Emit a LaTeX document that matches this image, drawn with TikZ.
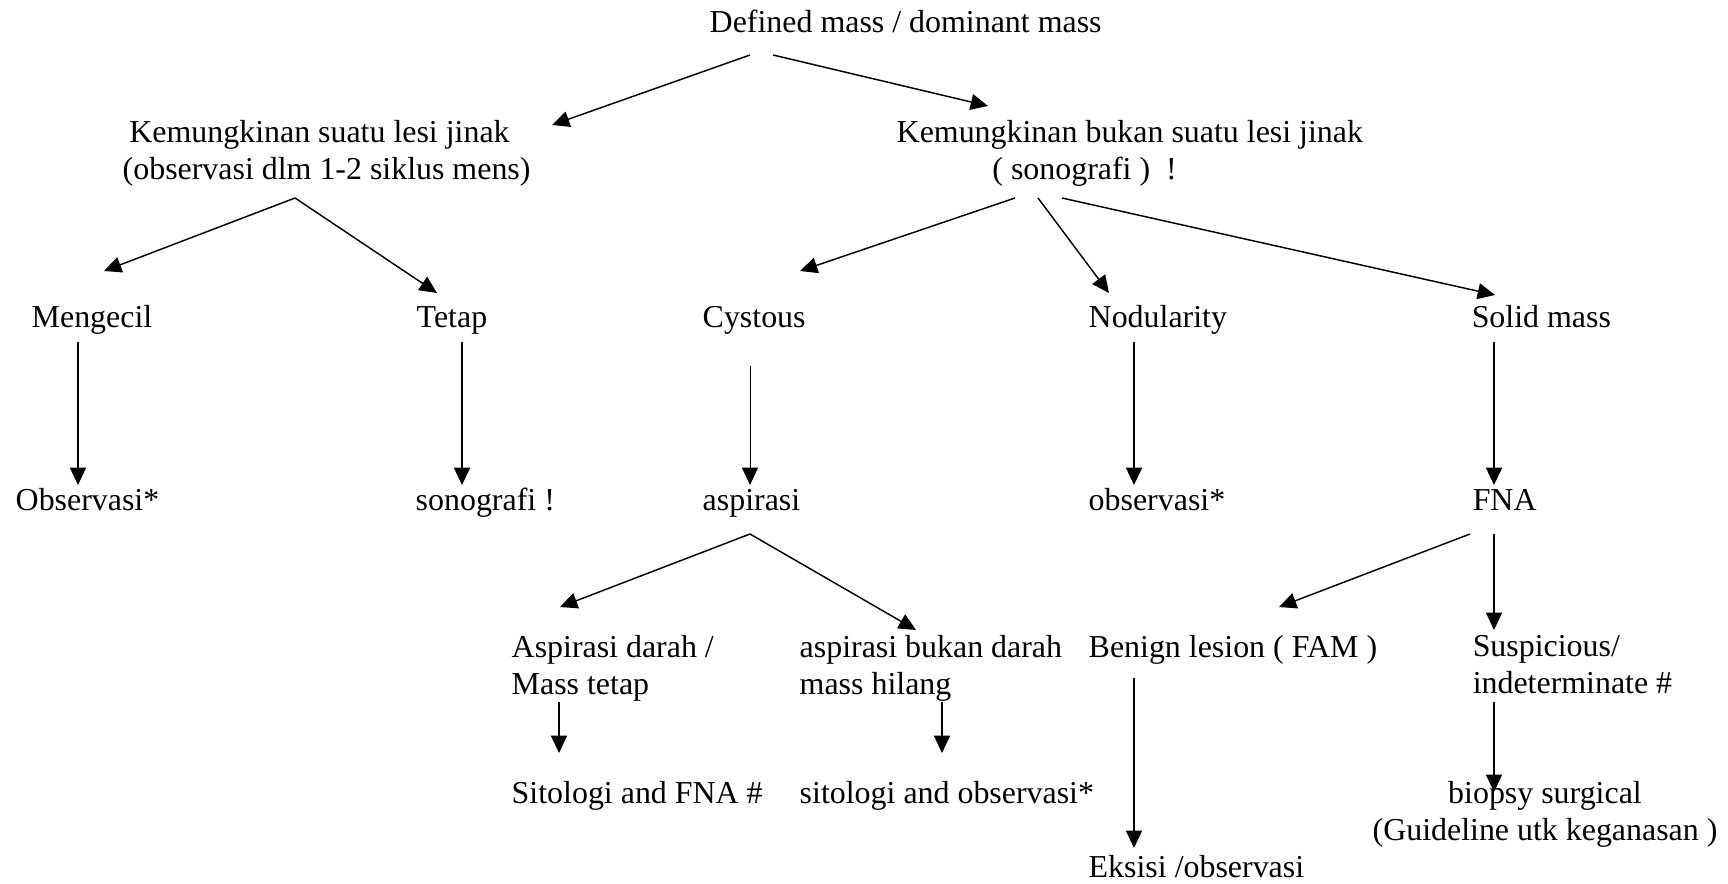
\documentclass[tikz,border=0pt]{standalone}
\usepackage{fontspec}
\setmainfont{Liberation Serif}
\usetikzlibrary{arrows.meta}

\begin{document}
\begin{tikzpicture}[->, >={Triangle[length=6.5pt,width=6pt]}, line width=0.55pt,
		x=0.013213cm, y=-0.013213cm,
		nodes={inner sep=0pt, anchor=base west, font=\fontsize{12}{13.8}\selectfont}]
		\useasboundingbox (0,0) rectangle (1728,884);
		\node (top) at (709,33) {Defined mass / dominant mass};
		\node (jinak) [anchor=north west, align=left] at (122,120) {\hspace*{2.5pt}Kemungkinan suatu lesi jinak\\(observasi dlm 1-2 siklus mens)};
		\node (bukan) [anchor=north west, align=left] at (896,120) {Kemungkinan bukan suatu lesi jinak\\\hspace*{36pt}( sonografi )\ \ !};
		\node (mengecil) at (31,327) {Mengecil};
		\node (tetap) at (416,327) {Tetap};
		\node (cystous) at (702,327) {Cystous};
		\node (nodular) at (1088,327) {Nodularity};
		\node (solid) at (1471,327) {Solid mass};
		\node (obs1) at (15,510) {Observasi*};
		\node (sono) at (415,510) {sonografi !};
		\node (aspirasi) at (702,510) {aspirasi};
		\node (obs2) at (1088,510) {observasi*};
		\node (fna) at (1472,510) {FNA};
		\node (darah) [anchor=north west, align=left] at (511,635) {Aspirasi darah /\\Mass tetap};
		\node (bukandarah) [anchor=north west, align=left] at (799,635) {aspirasi bukan darah\\mass hilang};
		\node (benign) at (1088,657) {Benign lesion ( FAM )};
		\node (suspic) [anchor=north west, align=left] at (1472,635) {Suspicious/\\indeterminate \#};
		\node (sitofna) at (511,803) {Sitologi and FNA \#};
		\node (sitoobs) at (799,803) {sitologi and observasi*};
		\node (biopsy) [anchor=north, align=center] at (1545,781) {biopsy surgical\\(Guideline utk keganasan )};
		\node (eksisi) at (1088,877) {Eksisi /observasi};
		\draw ([shift={(41,22)}]top.base west) -- ([shift={(430,5)}]jinak.north west);
		\draw ([shift={(64,22)}]top.base west) -- ([shift={(92,-14)}]bukan.north west);
		\draw ([shift={(173,78)}]jinak.north west) -- ([shift={(73,-56)}]mengecil.base west);
		\draw ([shift={(173,78)}]jinak.north west) -- ([shift={(21,-34)}]tetap.base west);
		\draw ([shift={(119,78)}]bukan.north west) -- ([shift={(98,-56)}]cystous.base west);
		\draw ([shift={(142,78)}]bukan.north west) -- ([shift={(21,-34)}]nodular.base west);
		\draw ([shift={(166,78)}]bukan.north west) -- ([shift={(24,-32)}]solid.base west);
		\draw ([shift={(47,15)}]mengecil.base west) -- ([shift={(63,-25)}]obs1.base west);
		\draw ([shift={(46,15)}]tetap.base west) -- ([shift={(47,-25)}]sono.base west);
		\draw [line width=0.35pt] ([shift={(48,39)}]cystous.base west) -- ([shift={(48,-25)}]aspirasi.base west);
		\draw ([shift={(46,15)}]nodular.base west) -- ([shift={(46,-25)}]obs2.base west);
		\draw ([shift={(23,15)}]solid.base west) -- ([shift={(22,-25)}]fna.base west);
		\draw ([shift={(48,24)}]aspirasi.base west) -- ([shift={(49,-28)}]darah.north west);
		\draw ([shift={(48,24)}]aspirasi.base west) -- ([shift={(117,-5)}]bukandarah.north west);
		\draw ([shift={(-2,24)}]fna.base west) -- ([shift={(191,-50)}]benign.base west);
		\draw ([shift={(22,24)}]fna.base west) -- ([shift={(22,-5)}]suspic.north west);
		\draw ([shift={(48,67)}]darah.north west) -- ([shift={(48,-50)}]sitofna.base west);
		\draw ([shift={(143,67)}]bukandarah.north west) -- ([shift={(143,-50)}]sitoobs.base west);
		\draw ([shift={(46,21)}]benign.base west) -- ([shift={(46,-29)}]eksisi.base west);
		\draw ([shift={(22,67)}]suspic.north west) -- ([shift={(-51,11)}]biopsy.north);
\end{tikzpicture}
\end{document}
